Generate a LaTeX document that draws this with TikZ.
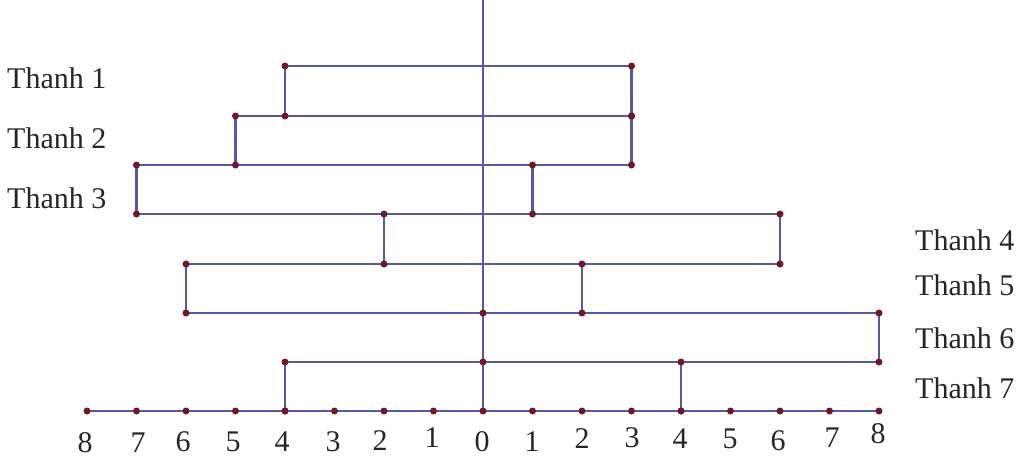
\documentclass[tikz,border=0pt]{standalone}
\usepackage{fontspec}
\setmainfont{Liberation Serif}
\definecolor{barc}{RGB}{88,88,170}
\definecolor{dotc}{RGB}{112,24,40}
\begin{document}
\begin{tikzpicture}[x=1pt,y=-1pt,
  bar/.style={draw=barc, line width=2.2pt},
  dot/.style={circle, fill=dotc, inner sep=0pt, minimum size=7pt},
  lbl/.style={font=\fontsize{30}{36}\selectfont, text=black!85, anchor=base west, inner sep=0pt},
  num/.style={font=\fontsize{30}{36}\selectfont, text=black!85, anchor=base, inner sep=0pt}]
\useasboundingbox (0,0) rectangle (1024,459);
% axis points a0..a16 for -8..8
\foreach \i in {0,...,16} \coordinate (a\i) at ({483+49.5*(\i-8)},411);
\coordinate (top) at (483,0);
% bars: left/right/top/bottom/index
\foreach \l/\r/\t/\b/\k in {-4/3/66/116/1, -5/3/116/165/2, -7/1/165/214/3, -2/6/214/264/4, -6/2/264/313/5, 0/8/313/362/6, -4/4/362/411/7}{
  \coordinate (b\k tl) at ({483+49.5*\l},\t);
  \coordinate (b\k tr) at ({483+49.5*\r},\t);
  \coordinate (b\k bl) at ({483+49.5*\l},\b);
  \coordinate (b\k br) at ({483+49.5*\r},\b);
  \draw[bar] (b\k tl) -- (b\k tr) -- (b\k br) -- (b\k bl) -- cycle;
}
\draw[bar] (top) -- (a8);
\draw[bar] (a0) -- (a16);
% dots
\foreach \k in {1,...,7}{
  \foreach \c in {tl,tr,bl,br} \node[dot] (d\k\c) at (b\k \c) {};
}
\foreach \i in {0,...,16} \node[dot] (t\i) at (a\i) {};
% labels
\node[lbl] (th1) at (7,88) {Thanh 1};
\node[lbl] (th2) at (7,148) {Thanh 2};
\node[lbl] (th3) at (7,208) {Thanh 3};
\node[lbl] (th4) at (915,250) {Thanh 4};
\node[lbl] (th5) at (915,295) {Thanh 5};
\node[lbl] (th6) at (915,348) {Thanh 6};
\node[lbl] (th7) at (915,398) {Thanh 7};
% numbers
\foreach \x/\y/\t [count=\n] in {85/452/8, 138/452/7, 183/451/6, 233/451/5, 282/451/4, 333/451/3, 380/450/2, 432/447/1, 482/451/0,
  532/451/1, 582/448/2, 632/447/3, 680/448/4, 730/448/5, 778/450/6, 832/447/7, 878/443/8}
  \node[num] (n\n) at (\x,\y) {\t};
\end{tikzpicture}
\end{document}
